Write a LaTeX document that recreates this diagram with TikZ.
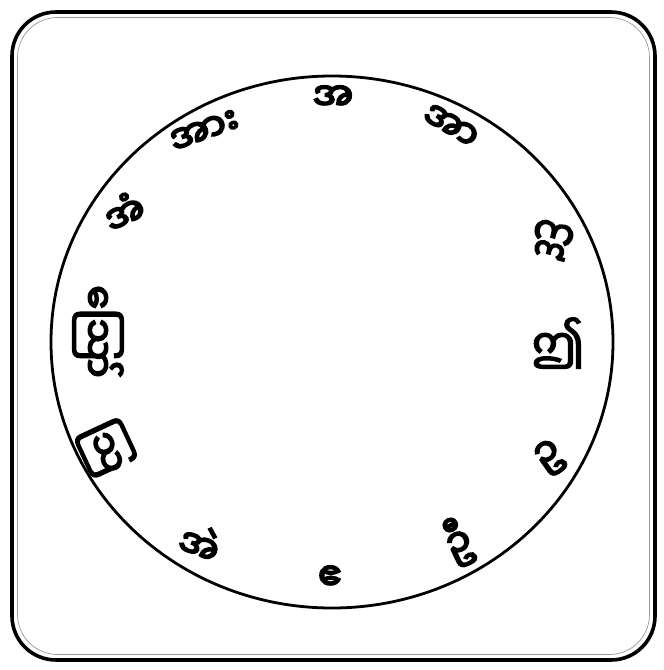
\documentclass[tikz,border=0pt]{standalone}
\usetikzlibrary{shapes.geometric}
\usepackage{fontspec}
\newfontfamily\myan[Script=Myanmar,FakeBold=5]{Noto Sans Myanmar UI}
\begin{document}
\begin{tikzpicture}[x=1pt,y=-1pt,
  vowel/.style={font=\myan\fontsize{38}{42}\selectfont, inner sep=0pt, text=black}]
\useasboundingbox (0,0) rectangle (664,670);
\fill[white] (0,0) rectangle (664,670);
\draw[line width=3.6pt, rounded corners=44pt] (12,12) rectangle (655,660);
\draw[line width=0.7pt, black!40, rounded corners=40pt] (17.5,17.5) rectangle (649.5,654.5);
\node[draw, line width=2.8pt, ellipse, minimum width=562pt, minimum height=532pt, inner sep=0pt] (c) at (332,342) {};
\node[vowel] (v1) at (333,98) {အ};
\node[vowel, rotate=-30] (v2) at (450,127) {အာ};
\node[vowel, rotate=-15] (v3) at (552,240) {ဣ};
\node[vowel] (v4) at (558,343) {ဤ};
\node[vowel, rotate=35] (v5) at (550,458) {ဥ};
\node[vowel, rotate=25] (v6) at (458,542) {ဦ};
\node[vowel] (v7) at (330,578) {ဧ};
\node[vowel, rotate=-20] (v8) at (200,543) {အဲ};
\node[vowel, rotate=-65] (v9) at (106,448) {ဩ};
\node[vowel, rotate=-90] (v10) at (98,332) {ဪ};
\node[vowel, rotate=25] (v11) at (124,212) {အံ};
\node[vowel, rotate=20] (v12) at (205,132) {အား};
\end{tikzpicture}
\end{document}
